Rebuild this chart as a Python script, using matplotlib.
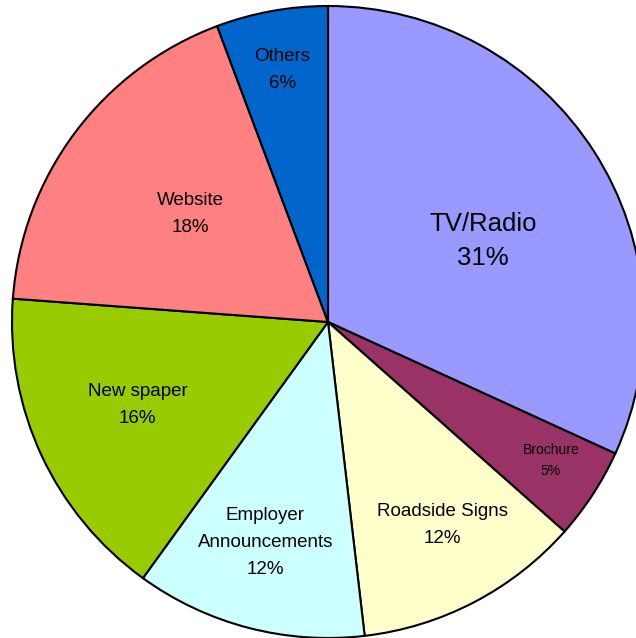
import numpy as np
import matplotlib.pyplot as plt

plt.rcParams['font.family'] = ['Liberation Sans', 'DejaVu Sans']

# slices, clockwise from 12 o'clock
labels = ['TV/Radio', 'Brochure', 'Roadside Signs', 'Employer\nAnnouncements',
          'New spaper', 'Website', 'Others']
shares = [31.8, 4.7, 11.6, 11.8, 16.2, 18.1, 5.7]
pctText = ['31%', '5%', '12%', '12%', '16%', '18%', '6%']
colors = ['#9999FF', '#993366', '#FFFFCC', '#CCFFFF', '#99CC00', '#FF8080', '#0066CC']

# label placement / size per slice (radius, angle shift from slice middle)
labelRadius = [0.553, 0.83, 0.738, 0.726, 0.657, 0.553, 0.811]
labelShift = [-5.2, 1.2, 1.8, -1.3, -1.4, -1.3, 0.0]
labelSize = [18.5, 10, 13.5, 13.5, 13.5, 13.5, 13.5]
labelSpacing = [1.52, 1.65, 1.78, 1.78, 1.78, 1.78, 1.78]

fig = plt.figure(figsize=(6.36, 6.38), dpi=100)
ax = fig.add_axes([12/636, 0, 632/636, 632/638])

wedges, _ = ax.pie(shares, colors=colors, startangle=90, counterclock=False,
                   radius=1.0, wedgeprops=dict(edgecolor='black', linewidth=1.5))

for i, w in enumerate(wedges):
	mid = np.deg2rad((w.theta1 + w.theta2) / 2.0 + labelShift[i])
	r = labelRadius[i]
	ax.text(r*np.cos(mid), r*np.sin(mid), labels[i] + '\n' + pctText[i],
	        ha='center', va='center', fontsize=labelSize[i],
	        linespacing=labelSpacing[i], color='black')

ax.set_xlim(-1, 1)
ax.set_ylim(-1, 1)
ax.set_aspect('auto')
ax.axis('off')

fig.savefig('out.png', dpi=100)
